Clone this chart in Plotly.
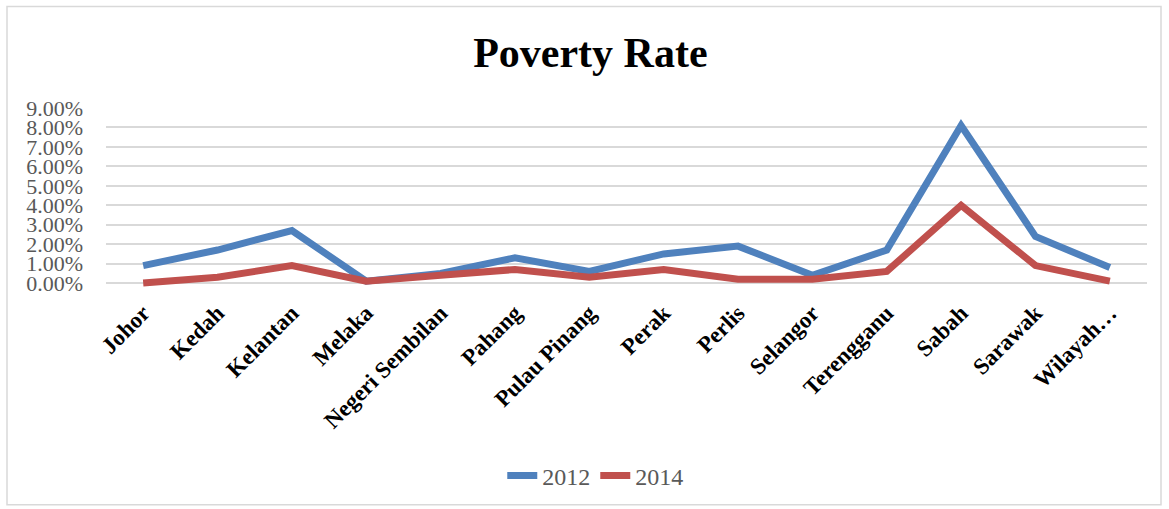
import plotly.graph_objects as go

categories = ["Johor", "Kedah", "Kelantan", "Melaka", "Negeri Sembilan", "Pahang",
              "Pulau Pinang", "Perak", "Perlis", "Selangor", "Terengganu", "Sabah",
              "Sarawak", "Wilayah…"]
rate_2012 = [0.9, 1.7, 2.7, 0.1, 0.5, 1.3, 0.6, 1.5, 1.9, 0.4, 1.7, 8.1, 2.4, 0.8]
rate_2014 = [0.0, 0.3, 0.9, 0.1, 0.4, 0.7, 0.3, 0.7, 0.2, 0.2, 0.6, 4.0, 0.9, 0.1]
y_ticks = [0, 1, 2, 3, 4, 5, 6, 7, 8, 9]
y_tick_labels = [f"{v:.2f}%" for v in y_ticks]

BLUE = "#4F81BD"
RED = "#C0504D"
SERIF = "Liberation Serif, Times New Roman, serif"

fig = go.Figure()
fig.add_trace(go.Scatter(x=categories, y=rate_2012, name="2012", mode="lines",
                         line=dict(color=BLUE, width=7)))
fig.add_trace(go.Scatter(x=categories, y=rate_2014, name="2014", mode="lines",
                         line=dict(color=RED, width=7)))

left, right, top, bottom = 106, 22, 107, 221
W, H = 1169, 509
pw = W - left - right
ph = H - top - bottom

def px_to_paper_x(px):
    return (px - left) / pw

def px_to_paper_y(py):
    return (H - bottom - py) / ph

fig.update_layout(
    width=W, height=H,
    margin=dict(l=left, r=right, t=top, b=bottom),
    paper_bgcolor="white", plot_bgcolor="white",
    title=dict(text="<b>Poverty Rate</b>", x=0.505, xanchor="center",
               y=1 - 52 / H, yanchor="middle", yref="container",
               font=dict(family=SERIF, size=42, color="black")),
    showlegend=True,
    legend=dict(orientation="h", x=0.47, xanchor="center",
                y=px_to_paper_y(476), yanchor="middle",
                font=dict(family=SERIF, size=24, color="#595959"),
                itemwidth=30),
    hovermode=False,
    xaxis=dict(type="category", range=[-0.5, len(categories) - 0.5],
               showgrid=False, zeroline=False, showline=False, ticks="",
               tickangle=-45, ticklabelstandoff=7,
               tickfont=dict(family=SERIF, size=23, color="black", weight=700)),
    yaxis=dict(range=[-0.2, 9.05], tickvals=y_ticks, ticktext=y_tick_labels,
               showgrid=True, gridcolor="#D9D9D9", gridwidth=1.5,
               zeroline=False, showline=False, ticks="",
               ticklabelstandoff=22,
               tickfont=dict(family=SERIF, size=22, color="#595959")),
    shapes=[dict(type="rect", xref="paper", yref="paper",
                 x0=px_to_paper_x(7), x1=px_to_paper_x(1161),
                 y0=px_to_paper_y(507), y1=px_to_paper_y(6),
                 line=dict(color="#D9D9D9", width=1.5), layer="below")],
)

fig.write_html("out.html")
